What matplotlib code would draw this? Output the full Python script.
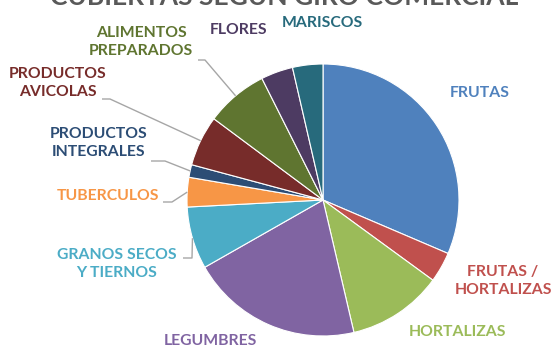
import numpy as np
import matplotlib
matplotlib.use("Agg")
from matplotlib import pyplot as plt

categories = ["FRUTAS", "FRUTAS /\nHORTALIZAS", "HORTALIZAS", "LEGUMBRES",
              "GRANOS SECOS\nY TIERNOS", "TUBERCULOS", "PRODUCTOS\nINTEGRALES",
              "PRODUCTOS\nAVICOLAS", "ALIMENTOS\nPREPARADOS", "FLORES", "MARISCOS"]
shares = [31.4, 3.6, 11.3, 20.4, 7.4, 3.5, 1.5, 6.0, 7.4, 3.8, 3.6]
colors = ["#4F81BD", "#C0504D", "#9BBB59", "#8064A2", "#4BACC6", "#F79646",
          "#2C4D75", "#772C2A", "#5F7530", "#4D3B62", "#276A7C"]
title = "CUBIERTAS SEGÚN GIRO COMERCIAL"

W, H = 553, 347
CX, CY, R = 323, 200, 136

# label centre (px from top-left) and leader elbow, None = no leader
label_pos = [(480, 93), (503, 281), (458, 332), (210, 341), (117, 264),
             (108, 196), (99, 143), (58, 83), (141, 42), (239, 30), (322, 23)]
leader_elbow = [None, None, None, None, ((183, 258), (192, 258)),
                ((163, 202), (172, 202)), ((151, 161), (165, 161)),
                ((102, 99), (110, 99)), ((198, 60), (205, 60)), None, None]


def Y(y):
    return H - y


fig = plt.figure(figsize=(W / 100, H / 100), dpi=100)
ax = fig.add_axes([0, 0, 1, 1])

wedges, _ = ax.pie(shares, colors=colors, startangle=90, counterclock=False,
                   center=(CX, Y(CY)), radius=R, frame=True,
                   wedgeprops=dict(edgecolor="white", linewidth=0.8))
ax.set_xlim(0, W)
ax.set_ylim(0, H)
ax.axis("off")

font = ["Lato", "DejaVu Sans"]
for w, name, col, (lx, ly), elbow in zip(wedges, categories, colors,
                                         label_pos, leader_elbow):
    ax.text(lx, Y(ly), name, color=col, family=font, fontweight="bold",
            fontsize=11.3, ha="center", va="center", linespacing=1.4)
    if elbow is not None:
        mid = np.radians((w.theta1 + w.theta2) / 2)
        rx = CX + R * np.cos(mid)
        ry = Y(CY) + R * np.sin(mid)
        (x0, y0), (x1, y1) = elbow
        ax.plot([x0, x1, rx], [Y(y0), Y(y1), ry], color="#A6A6A6", lw=1,
                solid_capstyle="butt")

# title sits mostly above the top edge
ax.text(284, Y(5), title, color="#595959", family=font, fontweight="bold",
        fontsize=19, ha="center", va="baseline")

fig.savefig("out.png", dpi=100)
